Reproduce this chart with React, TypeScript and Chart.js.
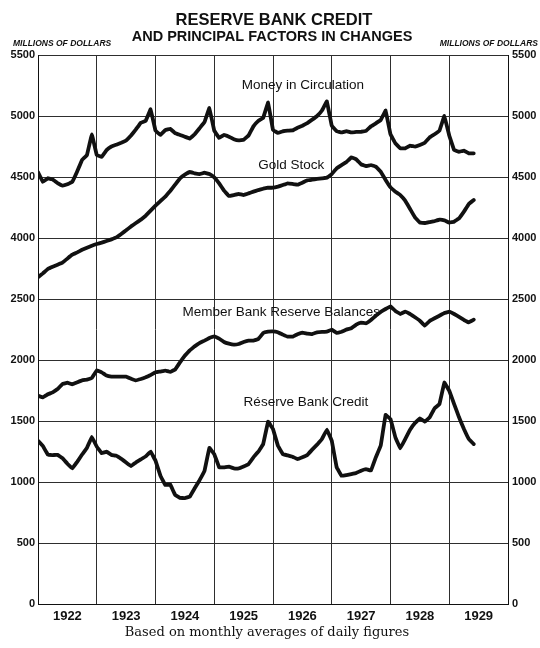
import React, { useEffect, useRef } from 'react';
import { Chart, registerables } from 'chart.js';

Chart.register(...registerables);

const titleLines = ['RESERVE BANK CREDIT', 'AND PRINCIPAL FACTORS IN CHANGES'];
const unitLabel = 'MILLIONS OF DOLLARS';
const caption = 'Based on monthly averages of daily figures';
const years = ['1922', '1923', '1924', '1925', '1926', '1927', '1928', '1929'];
const START_YEAR = 1922;

const seriesNames = [
  'Money in Circulation',
  'Gold Stock',
  'Member Bank Reserve Balances',
  'Réserve Bank Credit',
];

// monthly values, Jan 1922 - Jun 1929 (millions of dollars)
const moneyInCirculation = [
  4540, 4460, 4490, 4480, 4450, 4430, 4440, 4460, 4545, 4640, 4680, 4850,
  4680, 4665, 4720, 4750, 4765, 4780, 4800, 4840, 4890, 4945, 4960, 5055,
  4880, 4845, 4885, 4895, 4860, 4845, 4830, 4815, 4850, 4900, 4950, 5065,
  4880, 4820, 4845, 4830, 4810, 4800, 4805, 4840, 4915, 4960, 4985, 5110,
  4885, 4862, 4875, 4880, 4882, 4903, 4920, 4942, 4970, 5000, 5045, 5120,
  4920, 4875, 4865, 4876, 4865, 4870, 4871, 4878, 4915, 4940, 4967, 5045,
  4850, 4776, 4735, 4735, 4757, 4749, 4762, 4781, 4825, 4850, 4880, 5000,
  4840, 4721, 4707, 4716, 4694, 4694,
];

const goldStock = [
  3678, 3710, 3746, 3765, 3781, 3798, 3831, 3863, 3882, 3904, 3921, 3937,
  3951, 3962, 3975, 3989, 4005, 4033, 4063, 4095, 4123, 4150, 4183, 4224,
  4265, 4303, 4339, 4385, 4437, 4489, 4519, 4541, 4530, 4524, 4535, 4524,
  4497, 4448, 4388, 4344, 4352, 4361, 4352, 4366, 4380, 4393, 4404, 4412,
  4412, 4421, 4434, 4448, 4443, 4437, 4453, 4473, 4478, 4484, 4489, 4494,
  4524, 4571, 4598, 4623, 4661, 4645, 4604, 4590, 4598, 4585, 4544, 4475,
  4415, 4380, 4352, 4306, 4238, 4169, 4126, 4123, 4131, 4139, 4150, 4145,
  4126, 4134, 4161, 4216, 4279, 4311,
];

const memberBankReserveBalances = [
  1708, 1694, 1719, 1735, 1762, 1803, 1814, 1801, 1817, 1833, 1839, 1853,
  1915, 1899, 1872, 1864, 1864, 1864, 1864, 1847, 1833, 1844, 1858, 1877,
  1899, 1905, 1913, 1902, 1921, 1981, 2036, 2079, 2112, 2139, 2159, 2180,
  2194, 2175, 2148, 2134, 2126, 2131, 2148, 2159, 2159, 2172, 2221, 2232,
  2235, 2227, 2208, 2191, 2191, 2211, 2224, 2216, 2213, 2227, 2230, 2232,
  2249, 2222, 2232, 2249, 2260, 2290, 2306, 2301, 2328, 2363, 2394, 2418,
  2440, 2402, 2377, 2396, 2377, 2350, 2322, 2281, 2320, 2342, 2363, 2385,
  2396, 2377, 2353, 2328, 2309, 2331,
];

const reserveBankCredit = [
  1338, 1295, 1225, 1221, 1222, 1195, 1150, 1112, 1165, 1225, 1280, 1370,
  1290, 1236, 1248, 1222, 1215, 1190, 1160, 1130, 1160, 1185, 1210, 1250,
  1175, 1052, 975, 980, 895, 870, 868, 880, 948, 1015, 1090, 1280,
  1229, 1120, 1120, 1125, 1112, 1112, 1128, 1147, 1202, 1248, 1311, 1495,
  1434, 1298, 1229, 1218, 1207, 1188, 1202, 1221, 1265, 1306, 1352, 1430,
  1339, 1120, 1050, 1057, 1065, 1074, 1093, 1106, 1093, 1202, 1298, 1550,
  1516, 1366, 1276, 1352, 1429, 1483, 1522, 1494, 1530, 1604, 1639, 1815,
  1748, 1639, 1530, 1434, 1352, 1311,
];

const topRange = [3500, 5500];
const bottomRange = [0, 2500];
const tickStep = 500;

const toPoints = (arr: number[]) => arr.map((v, i) => ({ x: START_YEAR + i / 12, y: v }));

const INK = '#111';
const GRID = '#2e2e2e';
const SANS = '"Liberation Sans", Arial, sans-serif';

const textPlugin = {
  id: 'chartTexts',
  afterDraw(chart: any) {
    const ctx = chart.ctx as CanvasRenderingContext2D;
    const { x, yt, yb } = chart.scales;
    ctx.save();
    ctx.fillStyle = INK;
    ctx.textBaseline = 'middle';
    ctx.textAlign = 'center';
    ctx.font = `bold 16.5px ${SANS}`;
    ctx.fillText(titleLines[0], 274, 20);
    ctx.font = `bold 14.5px ${SANS}`;
    ctx.fillText(titleLines[1], 272, 37);

    ctx.font = `italic bold 8.5px ${SANS}`;
    ctx.textAlign = 'left';
    ctx.fillText(unitLabel, 13, 44);
    ctx.textAlign = 'right';
    ctx.fillText(unitLabel, 538, 44);

    ctx.textAlign = 'center';
    ctx.font = `13.5px ${SANS}`;
    ctx.fillText(seriesNames[0], x.getPixelForValue(1926.51), yt.getPixelForValue(5254));
    ctx.fillText(seriesNames[1], x.getPixelForValue(1926.31), yt.getPixelForValue(4598));
    ctx.fillText(seriesNames[2], x.getPixelForValue(1926.14), yb.getPixelForValue(2393));
    ctx.fillText(seriesNames[3], x.getPixelForValue(1926.56), yb.getPixelForValue(1656));

    ctx.font = `13px "DejaVu Serif", serif`;
    ctx.fillText(caption, 267, 633);
    ctx.restore();
  },
};

const yTickFont = { family: SANS, size: 11, weight: 'bold' as const };

function yAxis(position: 'left' | 'right', stack: string, range: number[], hideMin: boolean) {
  return {
    type: 'linear' as const,
    position,
    stack,
    stackWeight: range[1] - range[0],
    min: range[0],
    max: range[1],
    afterFit: (s: any) => {
      s.width = position === 'left' ? 38 : 32;
    },
    ticks: {
      stepSize: tickStep,
      padding: position === 'left' ? 3 : 4,
      color: INK,
      font: yTickFont,
      callback: (v: any) => (hideMin && v === range[0] ? '' : String(v)),
    },
    grid:
      position === 'left'
        ? { color: GRID, lineWidth: 1, drawTicks: false }
        : { drawOnChartArea: false, drawTicks: false },
    border: { display: true, color: INK, width: 1 },
  };
}

export default function App() {
  const ref = useRef<HTMLCanvasElement | null>(null);

  useEffect(() => {
    if (!ref.current) return;
    const xTicks: number[] = [];
    years.forEach((_, i) => {
      xTicks.push(START_YEAR + i, START_YEAR + i + 0.5);
    });
    xTicks.push(START_YEAR + years.length);

    const line = (label: string, data: number[], yAxisID: string) => ({
      label,
      data: toPoints(data),
      yAxisID,
      xAxisID: 'x',
      borderColor: INK,
      backgroundColor: INK,
      borderWidth: 3.8,
      pointRadius: 0,
      tension: 0.03,
      borderJoinStyle: 'round' as const,
      borderCapStyle: 'round' as const,
    });

    const chart = new Chart(ref.current, {
      type: 'line',
      data: {
        datasets: [
          line(seriesNames[0], moneyInCirculation, 'yt'),
          line(seriesNames[1], goldStock, 'yt'),
          line(seriesNames[2], memberBankReserveBalances, 'yb'),
          line(seriesNames[3], reserveBankCredit, 'yb'),
        ],
      },
      options: {
        animation: false,
        responsive: false,
        parsing: false as any,
        layout: { padding: { top: 55, bottom: 24, left: 0, right: 0 } },
        plugins: {
          legend: { display: false },
          title: { display: false },
          tooltip: { enabled: false },
        },
        scales: {
          x: {
            type: 'linear',
            min: START_YEAR,
            max: START_YEAR + years.length,
            afterBuildTicks: (s: any) => {
              s.ticks = xTicks.map((v) => ({ value: v }));
            },
            afterFit: (s: any) => {
              s.height = 20;
            },
            ticks: {
              autoSkip: false,
              maxRotation: 0,
              padding: 5,
              color: INK,
              font: { family: SANS, size: 13, weight: 'bold' },
              callback: (v: any) =>
                Number.isInteger(v) ? '' : years[Math.floor(v) - START_YEAR],
            },
            grid: {
              color: (c: any) =>
                c.tick && Number.isInteger(c.tick.value) ? GRID : 'rgba(0,0,0,0)',
              lineWidth: 1,
              drawTicks: false,
            },
            border: { display: true, color: INK, width: 1 },
          },
          yb: yAxis('left', 'L', bottomRange, false),
          yt: yAxis('left', 'L', topRange, true),
          ytr: yAxis('right', 'R', topRange, true),
          ybr: yAxis('right', 'R', bottomRange, false),
        } as any,
      },
      plugins: [textPlugin],
    });
    return () => chart.destroy();
  }, []);

  return (
    <div style={{ position: 'absolute', left: 0, top: 0, width: 540, height: 648, background: '#fff' }}>
      <canvas ref={ref} width={540} height={648} style={{ display: 'block' }} />
    </div>
  );
}
